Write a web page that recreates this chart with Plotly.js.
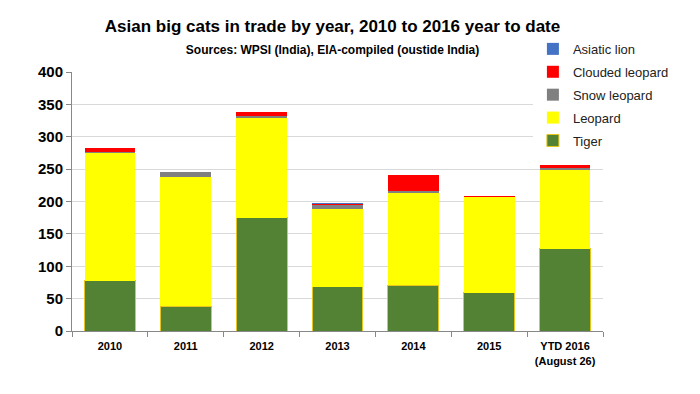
<!DOCTYPE html>
<html><head><meta charset="utf-8">
<script src="https://cdn.plot.ly/plotly-3.0.1.min.js"></script>
<style>body{margin:0;background:#fff}#c{width:700px;height:394px}</style>
</head><body><div id="c"></div>
<script>
var years = ['2010','2011','2012','2013','2014','2015','YTD 2016<br>(August 26)'];
var tiger = [78, 38, 175, 68, 71, 59, 127];
var leopard = [197, 200, 154, 121, 142, 148, 121];
var snowLeopard = [2, 7, 3, 5, 3, 0, 3];
var cloudedLeopard = [5, 0, 6, 2, 25, 2, 6];
var asiaticLion = [0, 0, 0, 2, 0, 0, 0];

var F = 'Liberation Sans, Arial, sans-serif';
function tr(name, y, color, rank, line) {
  return {type:'bar', name:name, legendgroup:name, legendrank:rank, x:years, y:y,
    marker:{color:color, line:line||{width:0}}, hoverinfo:'x+y+name'};
}
var data = [
  tr('Tiger', tiger, '#548235', 5, {color:'#E6C619', width:1}),
  tr('Leopard', leopard, '#FFFF00', 4),
  tr('Snow leopard', snowLeopard, '#808080', 3),
  tr('Clouded leopard', cloudedLeopard, '#FF0000', 2),
  tr('Asiatic lion', asiaticLion, '#4472C4', 1)
];
var layout = {
  width:700, height:394, barmode:'stack', bargap:0.33,
  paper_bgcolor:'#fff', plot_bgcolor:'#fff',
  margin:{l:72, r:97, t:72, b:63},
  font:{family:F, color:'#000'},
  title:{text:'<b>Asian big cats in trade by year, 2010 to 2016 year to date</b><br><span style="font-size:12px"><b>Sources: WPSI (India), EIA-compiled (oustide India)</b></span>',
    font:{family:F, size:17, color:'#000'}, x:0.475, xanchor:'center', y:0.918, yanchor:'top'},
  xaxis:{type:'category', tickson:'boundaries', ticks:'outside', ticklen:5, tickcolor:'#888',
    showline:true, linecolor:'#888', linewidth:1, ticklabelstandoff:5,
    tickfont:{family:F, size:11, color:'#000', weight:'bold'}},
  yaxis:{range:[0,400], dtick:50, showgrid:true, gridcolor:'#D9D9D9', ticks:'outside', ticklen:5,
    tickcolor:'#888', showline:true, linecolor:'#888', linewidth:1,
    tickfont:{family:F, size:15, color:'#000', weight:'bold'}, zeroline:false},
  legend:{x:0.868, xanchor:'left', y:1.147, yanchor:'top', traceorder:'grouped', bgcolor:'#fff',
    font:{family:F, size:13, color:'#222'}, itemwidth:30, tracegroupgap:3},
  showlegend:true
};
Plotly.newPlot('c', data, layout, {displayModeBar:false, staticPlot:true});
</script></body></html>
